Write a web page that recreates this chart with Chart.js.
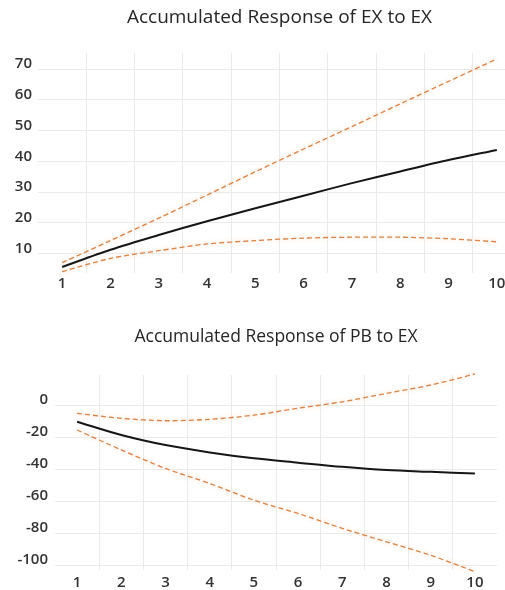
<!DOCTYPE html>
<html>
<head>
<meta charset="utf-8">
<script src="https://cdn.jsdelivr.net/npm/chart.js@4.4.1/dist/chart.umd.min.js"></script>
<style>
    html, body { margin: 0; padding: 0; background: #fff; overflow: hidden; }
    body { width: 505px; height: 590px; position: relative; }
    .box { position: absolute; left: 0; }
    #topBox { top: 0; width: 530px; height: 295px; }
    #bottomBox { top: 295px; width: 505px; height: 295px; }
</style>
</head>
<body>
<div class="box" id="topBox"><canvas id="exChart"></canvas></div>
<div class="box" id="bottomBox"><canvas id="pbChart"></canvas></div>
<script>
// 横轴期数
const periods = ['1', '2', '3', '4', '5', '6', '7', '8', '9', '10'];

// EX 对 EX 的累积响应
const exResponse = [5.6, 11.2, 16.0, 20.5, 24.7, 28.8, 32.9, 36.7, 40.4, 43.7];
const exUpper = [7.0, 14.2, 21.5, 29.0, 36.6, 44.0, 51.3, 58.7, 66.0, 73.3];
const exLower = [4.1, 8.4, 10.9, 13.1, 14.2, 15.0, 15.3, 15.3, 14.8, 13.8];
const exTicks = [10, 20, 30, 40, 50, 60, 70];

// PB 对 EX 的累积响应
const pbResponse = [-10.4, -18.7, -25.0, -29.6, -33.3, -36.0, -38.6, -40.6, -41.7, -42.7];
const pbUpper = [-5.2, -8.3, -9.8, -8.9, -6.3, -2.0, 2.0, 7.3, 12.5, 19.4];
const pbLower = [-15.6, -28.0, -39.6, -49.0, -59.4, -67.7, -77.0, -85.4, -93.8, -104.0];
const pbTicks = [0, -20, -40, -60, -80, -100];

const FONT = "'Open Sans', 'Noto Sans', sans-serif";
const GRID = '#ebebeb';
const ORANGE = '#d9844c';

// 虚线置信带加一点柔光
const glowPlugin = {
    id: 'glow',
    beforeDatasetDraw(chart, args) {
        if (args.meta._dataset.glow) {
            chart.ctx.save();
            chart.ctx.shadowColor = 'rgba(250,190,140,0.75)';
            chart.ctx.shadowBlur = 4;
        }
    },
    afterDatasetDraw(chart, args) {
        if (args.meta._dataset.glow) {
            chart.ctx.restore();
        }
    }
};

function makeDatasets(mid, upper, lower) {
    const band = (data) => ({
        data: data,
        borderColor: ORANGE,
        borderWidth: 1.3,
        borderDash: [5, 3],
        pointRadius: 0,
        tension: 0.3,
        clip: false,
        glow: true
    });
    return [
        band(upper),
        band(lower),
        {
            data: mid,
            borderColor: '#161616',
            borderWidth: 2,
            pointRadius: 0,
            tension: 0.3,
            clip: false
        }
    ];
}

function makeChart(id, cfg) {
    const ctx = document.getElementById(id);
    return new Chart(ctx.getContext('2d'), {
        type: 'line',
        data: {
            labels: periods,
            datasets: makeDatasets(cfg.mid, cfg.upper, cfg.lower)
        },
        plugins: [glowPlugin],
        options: {
            responsive: true,
            maintainAspectRatio: false,
            animation: false,
            layout: { padding: { left: 0, right: cfg.padRight, top: 0, bottom: 0 } },
            plugins: {
                legend: { display: false },
                tooltip: { enabled: false },
                title: {
                    display: true,
                    text: cfg.title,
                    fullSize: false,
                    color: '#262626',
                    font: { family: FONT, size: cfg.titleSize, weight: 'normal' },
                    padding: { top: cfg.titleTop, bottom: cfg.titleBottom }
                }
            },
            scales: {
                x: {
                    offset: true,
                    border: { display: false },
                    grid: {
                        offset: true,
                        drawTicks: false,
                        color: (c) => (typeof c.index !== 'number' || c.index === 0) ? 'rgba(0,0,0,0)' : GRID
                    },
                    ticks: {
                        color: '#333333',
                        padding: cfg.xPad,
                        maxRotation: 0,
                        autoSkip: false,
                        font: { family: FONT, size: 15, weight: '600' }
                    },
                    afterFit: (scale) => { scale.height = cfg.xHeight; }
                },
                y: {
                    min: cfg.min,
                    max: cfg.max,
                    border: { display: false },
                    grid: { drawTicks: false, color: GRID },
                    ticks: {
                        color: '#333333',
                        padding: cfg.yPad,
                        labelOffset: -5,
                        font: { family: FONT, size: 15, weight: '600' }
                    },
                    afterBuildTicks: (scale) => {
                        scale.ticks = cfg.ticks.map(v => ({ value: v }));
                    },
                    afterFit: (scale) => { scale.width = cfg.yWidth; }
                }
            }
        }
    });
}

makeChart('exChart', {
    title: 'Accumulated Response of EX to EX',
    mid: exResponse, upper: exUpper, lower: exLower,
    ticks: exTicks, min: 3.65, max: 75.3,
    padRight: 9, yWidth: 38, yPad: 6, xHeight: 22, xPad: 2,
    titleSize: 19, titleTop: 6, titleBottom: 24
});

makeChart('pbChart', {
    title: 'Accumulated Response of PB to EX',
    mid: pbResponse, upper: pbUpper, lower: pbLower,
    ticks: pbTicks, min: -103, max: 18.75,
    padRight: 8, yWidth: 55, yPad: 7, xHeight: 20, xPad: 4,
    titleSize: 17.5, titleTop: 32, titleBottom: 27
});
</script>
</body>
</html>
